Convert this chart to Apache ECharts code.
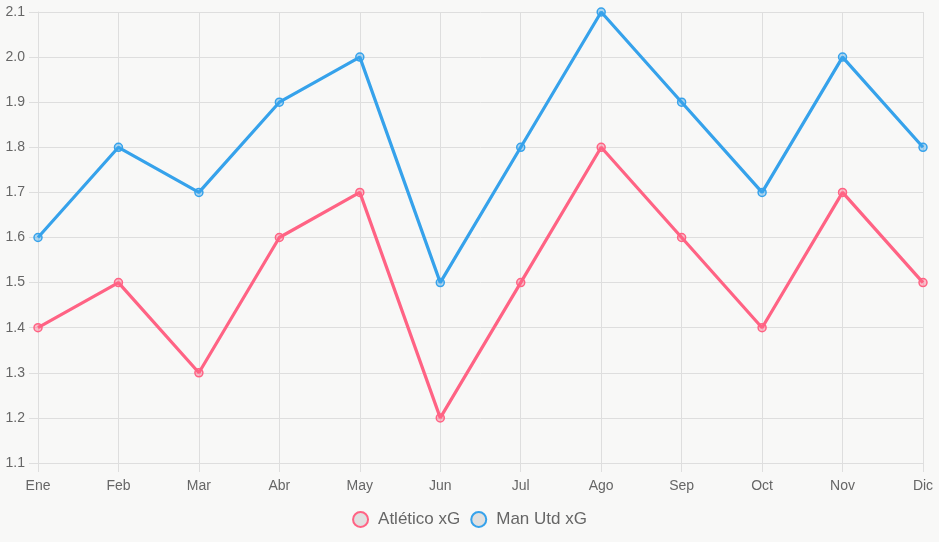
<!DOCTYPE html>
<html>
<head>
<meta charset="utf-8">
<script src="https://cdn.jsdelivr.net/npm/echarts@6/dist/echarts.min.js"></script>
<style>
  html, body { margin: 0; padding: 0; background: #f8f8f7; }
  #chart { width: 939px; height: 542px; }
</style>
</head>
<body>
<div id="chart"></div>
<script>
const months = ['Ene', 'Feb', 'Mar', 'Abr', 'May', 'Jun', 'Jul', 'Ago', 'Sep', 'Oct', 'Nov', 'Dic'];
const atleticoXg = [1.4, 1.5, 1.3, 1.6, 1.7, 1.2, 1.5, 1.8, 1.6, 1.4, 1.7, 1.5];
const manUtdXg = [1.6, 1.8, 1.7, 1.9, 2.0, 1.5, 1.8, 2.1, 1.9, 1.7, 2.0, 1.8];

const gridColor = '#dedede';
const font = 'Arial, "Liberation Sans", sans-serif';

let chart = echarts.init(document.getElementById('chart'));

const makeSeries = (name, data, color, fill) => ({
  name,
  type: 'line',
  data,
  symbol: 'circle',
  symbolSize: 8,
  lineStyle: { color, width: 3.2 },
  itemStyle: { color: fill, borderColor: color, borderWidth: 1.5 },
  emphasis: { disabled: true },
  z: 3
});

chart.setOption({
  backgroundColor: '#f8f8f7',
  animation: false,
  textStyle: { fontFamily: font },
  grid: { left: 38, right: 16, top: 12, bottom: 79 },
  legend: {
    bottom: 9,
    left: 'center',
    icon: 'circle',
    itemWidth: 15,
    itemHeight: 15,
    itemGap: 10,
    textStyle: { color: '#666', fontSize: 17, fontFamily: font, padding: [0, 0, 0, 5] },
    data: [
      { name: 'Atlético xG', itemStyle: { color: '#e0e0e0', borderColor: '#ff6384', borderWidth: 2 } },
      { name: 'Man Utd xG', itemStyle: { color: '#e0e0e0', borderColor: '#36a2eb', borderWidth: 2 } }
    ]
  },
  xAxis: {
    type: 'category',
    data: months,
    boundaryGap: false,
    axisLine: { lineStyle: { color: gridColor } },
    axisTick: { show: true, length: 9, alignWithLabel: true, lineStyle: { color: gridColor } },
    axisLabel: { color: '#666', fontSize: 14, margin: 16 },
    splitLine: { show: true, lineStyle: { color: gridColor } }
  },
  yAxis: {
    type: 'value',
    min: 1.1,
    max: 2.1,
    interval: 0.1,
    axisLine: { show: true, lineStyle: { color: gridColor } },
    axisTick: { show: true, length: 9, lineStyle: { color: gridColor } },
    axisLabel: {
      color: '#666',
      fontSize: 14,
      margin: 13,
      formatter: v => v.toFixed(1)
    },
    splitLine: { show: true, lineStyle: { color: gridColor } }
  },
  series: [
    makeSeries('Atlético xG', atleticoXg, '#ff6384', 'rgba(255,99,132,0.4)'),
    makeSeries('Man Utd xG', manUtdXg, '#36a2eb', 'rgba(54,162,235,0.4)')
  ]
});
</script>
</body>
</html>
